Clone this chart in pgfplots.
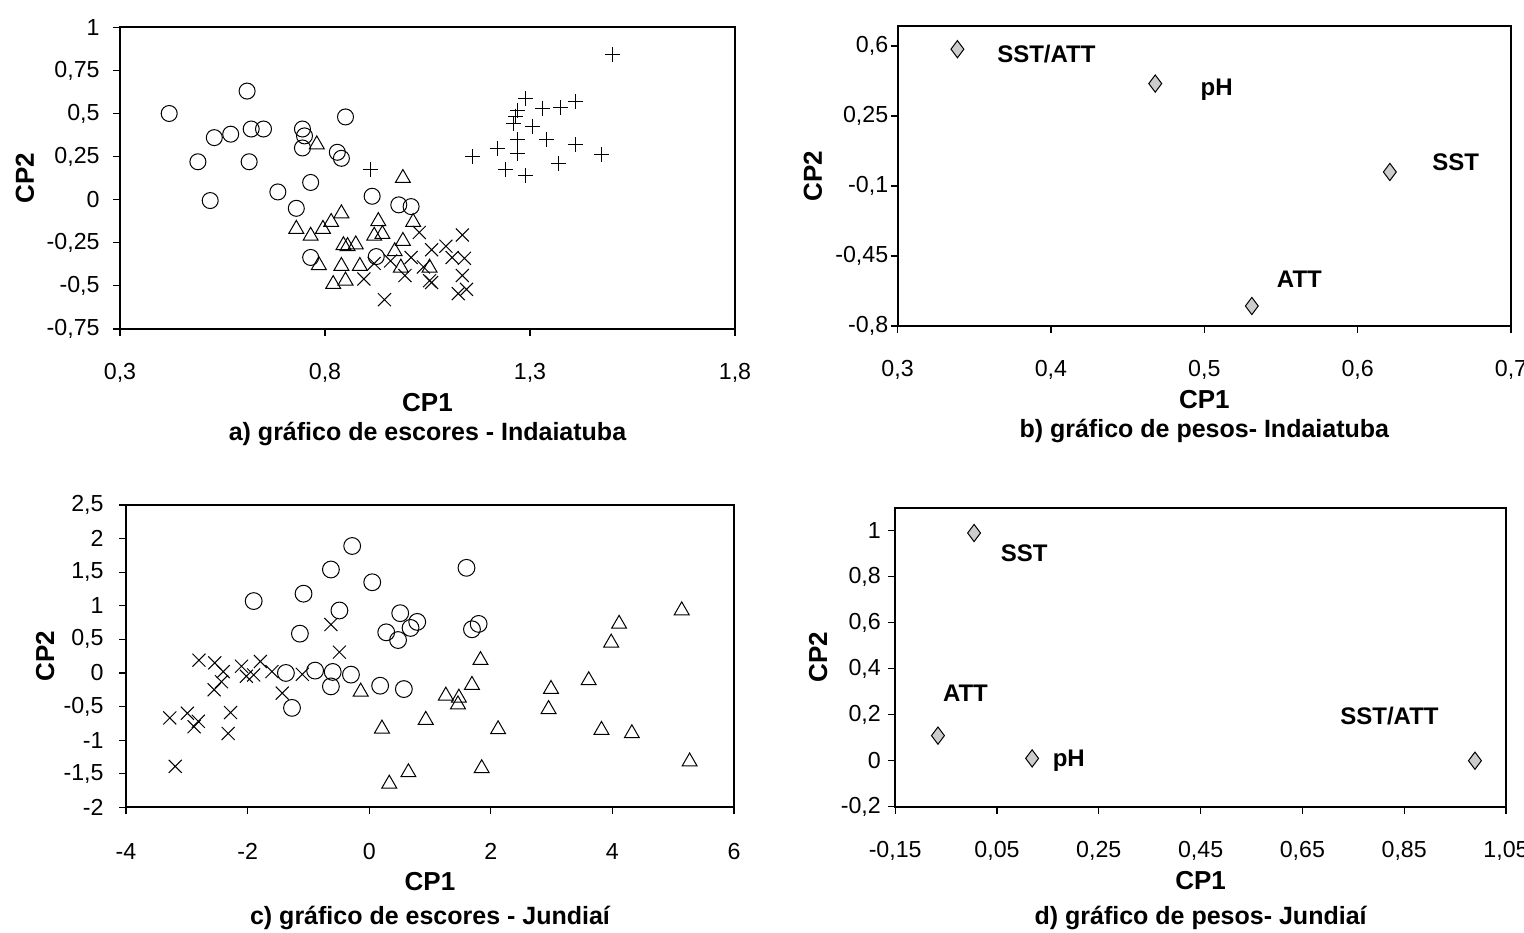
\documentclass[border=0pt]{standalone}
\usepackage{fontspec}
\setmainfont{Liberation Sans}
\usepackage{pgfplots}
\pgfplotsset{compat=1.18}
\tikzset{
  mylbl/.style={font=\bfseries\fontsize{12}{14}\selectfont, anchor=center},
  mycap/.style={font=\bfseries\fontsize{12.5}{14}\selectfont, anchor=center, inner sep=0pt},
}
\begin{document}
\begin{tikzpicture}
\useasboundingbox (0pt,0pt) rectangle (762pt,466pt);
\pgfplotsset{
  myax/.style={
    scale only axis,
    axis line style={line width=1.1pt, black},
    tick style={black, line width=0.6pt},
    tick align=outside,
    major tick length=3.5pt,
    xtick pos=bottom, ytick pos=left,
    /pgf/number format/assume math mode=true,
    tick label style={font=\fontsize{11.6}{13}\selectfont},
    xticklabel style={anchor=center, yshift=-18.5pt},
    label style={font=\bfseries\fontsize{13}{15}\selectfont, inner sep=0pt},
    xlabel style={at={(axis description cs:0.5,0)}, anchor=center, yshift=-37pt},
    clip=false,
  },
  scat/.style={only marks, mark options={black, line width=0.5pt, fill=none, solid}},
  dia/.style={only marks, mark=diamond*, mark size=4.3pt, mark options={draw=black, fill=gray!40, line width=0.5pt}},
}
% ---------------- a) ----------------
\begin{axis}[myax, at={(60pt,301.5pt)}, anchor=south west,
  width=307.5pt, height=150.85pt,
  xmin=0.3, xmax=1.8, ymin=-0.75, ymax=1,
  xtick={0.3,0.8,1.3,1.8}, xticklabels={{0,3},{0,8},{1,3},{1,8}},
  ytick={-0.75,-0.5,-0.25,0,0.25,0.5,0.75,1},
  yticklabels={{-0,75},{-0,5},{-0,25},{0},{0,25},{0,5},{0,75},{1}},
  yticklabel style={anchor=east, inner sep=0pt, xshift=-6.5pt},
  xlabel={CP1}, ylabel={CP2},
  ylabel style={at={(axis description cs:-0.1545,0.5)}, anchor=center},
]
\addplot[scat, mark=o, mark size=4pt] coordinates {
(0.42,0.50) (0.61,0.63) (0.53,0.36) (0.57,0.38) (0.62,0.41) (0.65,0.41)
(0.745,0.41) (0.75,0.37) (0.745,0.30) (0.85,0.48) (0.83,0.275) (0.84,0.24)
(0.49,0.22) (0.615,0.22) (0.52,-0.005) (0.685,0.045) (0.765,0.10) (0.73,-0.05)
(0.915,0.02) (0.98,-0.03) (1.01,-0.04) (0.765,-0.335) (0.925,-0.33)
};
\addplot[scat, mark=triangle, mark size=4.3pt] coordinates {
(0.78,0.32) (0.99,0.125) (0.84,-0.08) (0.815,-0.13) (0.795,-0.17) (0.73,-0.17)
(0.765,-0.21) (0.93,-0.125) (0.92,-0.21) (0.94,-0.20) (1.015,-0.13) (0.875,-0.26)
(0.845,-0.265) (0.855,-0.27) (0.99,-0.24) (0.97,-0.30) (0.785,-0.38) (0.84,-0.385)
(0.885,-0.385) (0.985,-0.395) (1.055,-0.395) (0.82,-0.49) (0.85,-0.47)
};
\addplot[scat, mark=x, mark size=4.6pt] coordinates {
(1.03,-0.19) (1.06,-0.29) (1.095,-0.27) (0.92,-0.37) (0.96,-0.355) (1.01,-0.335)
(0.995,-0.44) (1.04,-0.39) (1.06,-0.48) (0.895,-0.46) (0.945,-0.58) (1.135,-0.205)
(1.11,-0.335) (1.14,-0.34) (1.135,-0.44) (1.125,-0.545) (1.145,-0.52) (1.055,-0.47)
};
\addplot[scat, mark=+, mark size=3.75pt] coordinates {
(1.50,0.84) (1.29,0.585) (1.33,0.53) (1.375,0.535) (1.41,0.57) (1.265,0.485)
(1.27,0.52) (1.305,0.425) (1.27,0.35) (1.34,0.35) (1.41,0.32) (1.475,0.26)
(1.16,0.25) (1.22,0.295) (1.27,0.27) (1.24,0.175) (1.29,0.14) (1.37,0.21)
(1.26,0.44) (0.91,0.175)
};
\node[mycap] at (axis description cs:0.5,0) [yshift=-52.5pt] {a) gráfico de escores - Indaiatuba};
\end{axis}
% ---------------- b) ----------------
\begin{axis}[myax, at={(448.8pt,303pt)}, anchor=south west,
  width=306.7pt, height=150pt,
  xmin=0.3, xmax=0.7, ymin=-0.8, ymax=0.7,
  xtick={0.3,0.4,0.5,0.6,0.7}, xticklabels={{0,3},{0,4},{0,5},{0,6},{0,7}},
  ytick={-0.8,-0.45,-0.1,0.25,0.6},
  yticklabels={{-0,8},{-0,45},{-0,1},{0,25},{0,6}},
  yticklabel style={anchor=east, inner sep=0pt, xshift=-1pt},
  xlabel={CP1}, ylabel={CP2},
  ylabel style={at={(axis description cs:-0.138,0.5)}, anchor=center},
]
\addplot[dia] coordinates {(0.339,0.584) (0.468,0.412) (0.621,-0.03) (0.531,-0.70)};
\node[mylbl] at (axis cs:0.397,0.558) {SST/ATT};
\node[mylbl] at (axis cs:0.508,0.38) {pH};
\node[mylbl] at (axis cs:0.664,0.02) {SST};
\node[mylbl] at (axis cs:0.562,-0.567) {ATT};
\node[mycap] at (axis description cs:0.5,0) [yshift=-52.5pt] {b) gráfico de pesos- Indaiatuba};
\end{axis}
% ---------------- c) ----------------
\begin{axis}[myax, at={(63pt,62.35pt)}, anchor=south west,
  width=304pt, height=151.15pt,
  xmin=-4, xmax=6, ymin=-2, ymax=2.5,
  xtick={-4,-2,0,2,4,6}, xticklabels={{-4},{-2},{0},{2},{4},{6}},
  ytick={-2,-1.5,-1,-0.5,0,0.5,1,1.5,2,2.5},
  yticklabels={{-2},{-1,5},{-1},{-0,5},{0},{0,5},{1},{1,5},{2},{2,5}},
  yticklabel style={anchor=east, inner sep=0pt, xshift=-7.5pt},
  xlabel={CP1}, ylabel={CP2},
  ylabel style={at={(axis description cs:-0.133,0.5)}, anchor=center},
]
\addplot[scat, mark=o, mark size=4.2pt] coordinates {
(-1.90,1.07) (-1.08,1.18) (-0.63,1.54) (-0.28,1.89) (0.05,1.35) (-0.49,0.93)
(-1.14,0.585) (0.51,0.89) (0.28,0.605) (0.475,0.49) (0.68,0.67) (0.79,0.76)
(-1.37,0.0) (-0.89,0.035) (-0.60,0.015) (-0.30,-0.025) (-0.63,-0.20) (-1.27,-0.52)
(0.18,-0.19) (0.57,-0.24) (1.60,1.565) (1.80,0.73) (1.69,0.65)
};
\addplot[scat, mark=triangle, mark size=4.3pt] coordinates {
(-0.14,-0.28) (0.21,-0.83) (0.93,-0.70) (0.645,-1.48) (0.33,-1.65) (1.83,0.19)
(1.69,-0.18) (1.26,-0.34) (1.475,-0.37) (1.46,-0.47) (2.12,-0.84) (1.85,-1.42)
(2.99,-0.24) (2.95,-0.54) (3.61,-0.11) (3.82,-0.85) (4.32,-0.90) (3.98,0.45)
(4.11,0.73) (5.14,0.93) (5.27,-1.32)
};
\addplot[scat, mark=x, mark size=4.6pt] coordinates {
(-0.63,0.72) (-0.49,0.31) (-2.80,0.19) (-2.54,0.15) (-2.40,0.02) (-2.10,0.10)
(-1.90,-0.03) (-1.79,0.17) (-1.60,0.02) (-1.10,-0.02) (-2.55,-0.25) (-1.43,-0.30)
(-3.28,-0.67) (-2.99,-0.60) (-2.81,-0.72) (-2.88,-0.80) (-2.28,-0.59) (-2.32,-0.90)
(-3.19,-1.39) (-2.02,-0.05) (-2.43,-0.13)
};
\node[mycap] at (axis description cs:0.5,0) [yshift=-55.5pt] {c) gráfico de escores - Jundiaí};
\end{axis}
% ---------------- d) ----------------
\begin{axis}[myax, at={(447.6pt,62.65pt)}, anchor=south west,
  width=305.4pt, height=149.5pt,
  xmin=-0.15, xmax=1.05, ymin=-0.2, ymax=1.1,
  xtick={-0.15,0.05,0.25,0.45,0.65,0.85,1.05},
  xticklabels={{-0,15},{0,05},{0,25},{0,45},{0,65},{0,85},{1,05}},
  ytick={-0.2,0,0.2,0.4,0.6,0.8,1},
  yticklabels={{-0,2},{0},{0,2},{0,4},{0,6},{0,8},{1}},
  yticklabel style={anchor=east, inner sep=0pt, xshift=-3.5pt},
  xlabel={CP1}, ylabel={CP2},
  ylabel style={at={(axis description cs:-0.126,0.5)}, anchor=center},
]
\addplot[dia] coordinates {(0.005,0.99) (-0.066,0.109) (0.119,0.01) (0.989,0.0)};
\node[mylbl] at (axis cs:0.1035,0.903) {SST};
\node[mylbl] at (axis cs:-0.012,0.294) {ATT};
\node[mylbl] at (axis cs:0.191,0.0) {pH};
\node[mylbl] at (axis cs:0.821,0.196) {SST/ATT};
\node[mycap] at (axis description cs:0.5,0) [yshift=-55.5pt] {d) gráfico de pesos- Jundiaí};
\end{axis}
\end{tikzpicture}
\end{document}
